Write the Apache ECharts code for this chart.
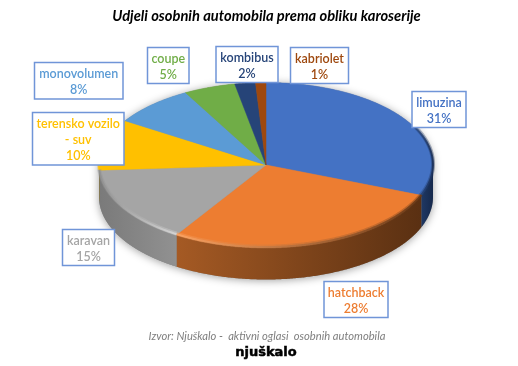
<!DOCTYPE html>
<html>
<head>
<meta charset="utf-8">
<style>
  html, body { margin: 0; padding: 0; background: #fff; }
  #chart { width: 518px; height: 366px; }
</style>
<script src="https://cdn.jsdelivr.net/npm/echarts@6/dist/echarts.min.js"></script>
</head>
<body>
<div id="chart"></div>
<script>
const categories = ['limuzina', 'hatchback', 'karavan', 'terensko vozilo\n- suv', 'monovolumen', 'coupe', 'kombibus', 'kabriolet']
const shares = [31, 28, 15, 10, 8, 5, 2, 1]
const colors = ['#4472c4', '#ed7d31', '#a5a5a5', '#ffc000', '#5b9bd5', '#70ad47', '#264478', '#9e480e']
// side wall colours, left to right
const sideColors = [
  ['#1f3864', '#16294c'], ['#a55a24', '#5a3012'], ['#7a7a7a', '#919191'], ['#8f6d00', '#8f6d00'],
  ['#333', '#333'], ['#333', '#333'], ['#333', '#333'], ['#333', '#333']
]
const rimColors = [
  ['#2c4f8c', '#14264a'], ['#ffa868', '#5a3012'], ['#8c8c8c', '#dedede'], ['#ffc000', '#ffc000'],
  ['#5b9bd5', '#5b9bd5'], ['#70ad47', '#70ad47'], ['#264478', '#264478'], ['#9e480e', '#9e480e']
]
// label boxes: left, top, width, height
const labelBoxes = [
  [412, 91.5, 54, 36], [324, 281.5, 64, 36], [62.5, 229.5, 52, 36], [32.5, 112.5, 91.5, 52.5],
  [34.5, 62.5, 88.5, 36.5], [147.5, 47.5, 41.5, 36], [216, 46.5, 62, 36], [290.5, 47.5, 58, 36]
]

const cx = 266, cy = 165, rx = 167, ry = 82.5, depth = 32

const total = shares.reduce((a, b) => a + b, 0)
let acc = 0
const spans = shares.map(v => {
  const from = acc / total * 360
  acc += v
  return [from, acc / total * 360]
})

function pt(deg, dy) {
  const a = deg * Math.PI / 180
  return [cx + rx * Math.sin(a), cy + (dy || 0) - ry * Math.cos(a)]
}

function arcPoints(from, to, dy) {
  const pts = []
  const n = Math.max(2, Math.ceil((to - from) * 2))
  for (let i = 0; i <= n; i++) pts.push(pt(from + (to - from) * i / n, dy))
  return pts
}

// part of a slice's arc on the front half of the pie
function frontSpan(i, start) {
  const from = Math.max(spans[i][0], start), to = Math.min(spans[i][1], 270)
  return from < to ? [from, to] : null
}

function hGrad(c) {
  return { type: 'linear', x: 0, y: 0, x2: 1, y2: 0, colorStops: [{ offset: 0, color: c[0] }, { offset: 1, color: c[1] }] }
}

function renderShadow() {
  const pts = arcPoints(90, 270, depth).concat(arcPoints(270, 450, 0))
  return {
    type: 'polygon',
    shape: { points: pts },
    style: { fill: '#888', shadowBlur: 9, shadowColor: 'rgba(0,0,0,0.38)', shadowOffsetY: 1 }
  }
}

function renderSide(params) {
  const s = frontSpan(params.dataIndex, 90)
  if (!s) return null
  return {
    type: 'polygon',
    shape: { points: arcPoints(s[0], s[1], 0).concat(arcPoints(s[0], s[1], depth).reverse()) },
    style: { fill: hGrad(sideColors[params.dataIndex]) }
  }
}

function renderTop(params) {
  const s = spans[params.dataIndex]
  const c = colors[params.dataIndex]
  return {
    type: 'polygon',
    shape: { points: [[cx, cy]].concat(arcPoints(s[0], s[1], 0)) },
    style: { fill: c, stroke: c, lineWidth: 0.5 }
  }
}

// soft bevel along the outer edge, two passes so it looks blurred
function renderRim(params) {
  const s = frontSpan(params.dataIndex, 62)
  if (!s) return null
  const c = hGrad(rimColors[params.dataIndex])
  return {
    type: 'group',
    children: [
      { type: 'polyline', shape: { points: arcPoints(s[0], s[1], -1) }, style: { fill: null, stroke: c, lineWidth: 4, opacity: 0.35 } },
      { type: 'polyline', shape: { points: arcPoints(s[0], s[1], -0.5) }, style: { fill: null, stroke: c, lineWidth: 2, opacity: 0.8 } }
    ]
  }
}

function renderLabel(params, api) {
  const i = params.dataIndex
  const b = labelBoxes[i]
  return {
    type: 'group',
    children: [
      {
        type: 'rect',
        shape: { x: b[0], y: b[1], width: b[2], height: b[3] },
        style: { fill: '#fff', stroke: '#7095d8', lineWidth: 1.5 }
      },
      {
        type: 'text',
        style: {
          x: b[0] + b[2] / 2,
          y: b[1] + b[3] / 2 + 1.5,
          text: categories[i] + '\n' + api.value(0) + '%',
          fill: colors[i],
          font: '600 12.5px Lato, "Open Sans", sans-serif',
          lineHeight: 16,
          align: 'center',
          verticalAlign: 'middle'
        }
      }
    ]
  }
}

const chart = echarts.init(document.getElementById('chart'), undefined, { renderer: 'canvas' })
const custom = (renderItem, data) => ({ type: 'custom', coordinateSystem: 'none', silent: true, clip: false, animation: false, renderItem, data })

chart.setOption({
  animation: false,
  title: {
    text: 'Udjeli osobnih automobila prema obliku karoserije',
    left: 261.5,
    top: 4,
    textAlign: 'center',
    textStyle: { fontFamily: 'Lato', fontSize: 14.7, fontStyle: 'italic', fontWeight: 'bold', color: '#000' }
  },
  series: [
    custom(renderShadow, [0]),
    custom(renderSide, shares),
    custom(renderTop, shares),
    custom(renderRim, shares),
    custom(renderLabel, shares)
  ],
  graphic: [
    {
      type: 'text',
      x: 267, y: 336,
      style: {
        text: 'Izvor: Njuškalo -  aktivni oglasi  osobnih automobila',
        fill: '#7f7f7f',
        font: 'italic 11.2px Lato, sans-serif',
        align: 'center',
        verticalAlign: 'middle'
      }
    },
    {
      type: 'text',
      x: 266, y: 353,
      style: {
        text: 'njuškalo',
        fill: '#000',
        stroke: '#000',
        lineWidth: 0.5,
        font: 'bold 13px "DejaVu Sans", sans-serif',
        align: 'center',
        verticalAlign: 'middle'
      }
    }
  ]
})
</script>
</body>
</html>
